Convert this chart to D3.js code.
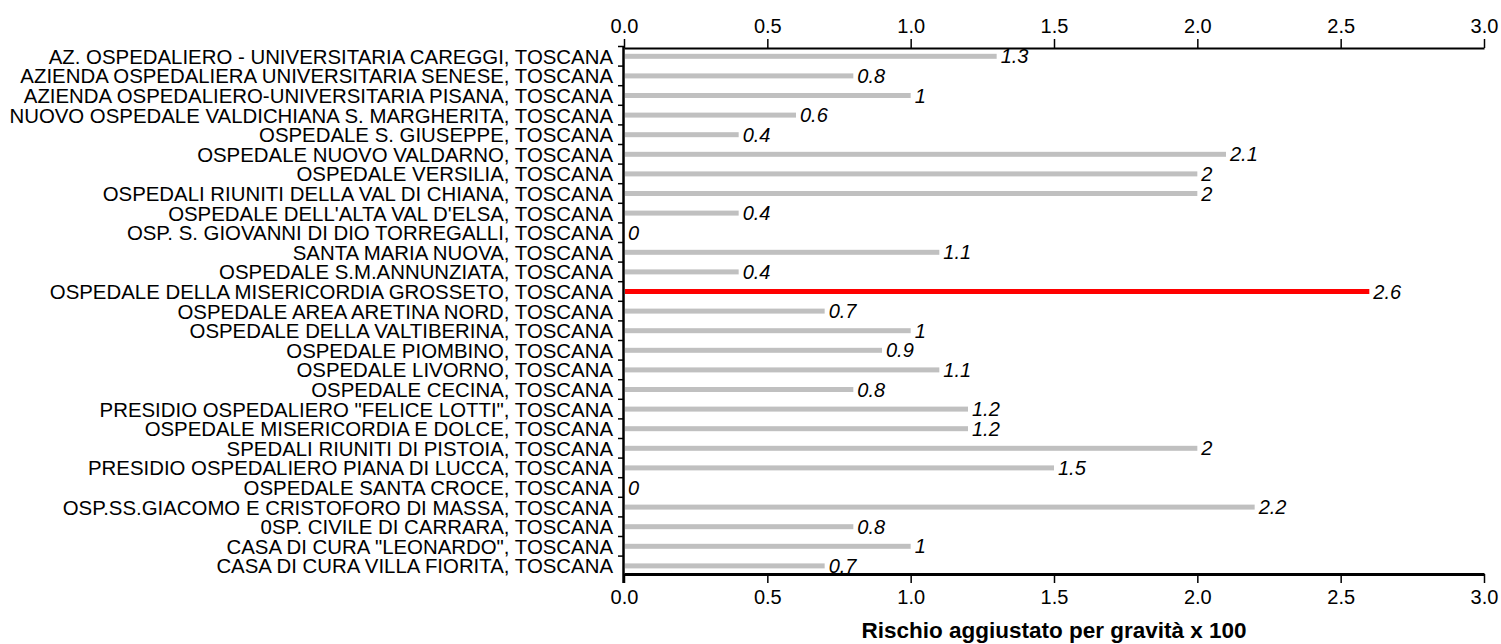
<!DOCTYPE html>
<html>
<head>
<meta charset="utf-8">
<script src="https://cdn.jsdelivr.net/npm/d3@7"></script>
<style>
  html, body { margin: 0; padding: 0; background: #fff; }
  svg { display: block; }
  text { font-family: Arial, "Liberation Sans", sans-serif; }
</style>
</head>
<body>
<svg id="chart" width="1501" height="644"></svg>
<script>
const categories = [
  "AZ. OSPEDALIERO - UNIVERSITARIA CAREGGI, TOSCANA",
  "AZIENDA OSPEDALIERA UNIVERSITARIA SENESE, TOSCANA",
  "AZIENDA OSPEDALIERO-UNIVERSITARIA PISANA, TOSCANA",
  "NUOVO OSPEDALE VALDICHIANA S. MARGHERITA, TOSCANA",
  "OSPEDALE S. GIUSEPPE, TOSCANA",
  "OSPEDALE NUOVO VALDARNO, TOSCANA",
  "OSPEDALE VERSILIA, TOSCANA",
  "OSPEDALI RIUNITI DELLA VAL DI CHIANA, TOSCANA",
  "OSPEDALE DELL'ALTA VAL D'ELSA, TOSCANA",
  "OSP. S. GIOVANNI DI DIO TORREGALLI, TOSCANA",
  "SANTA MARIA NUOVA, TOSCANA",
  "OSPEDALE S.M.ANNUNZIATA, TOSCANA",
  "OSPEDALE DELLA MISERICORDIA GROSSETO, TOSCANA",
  "OSPEDALE AREA ARETINA NORD, TOSCANA",
  "OSPEDALE DELLA VALTIBERINA, TOSCANA",
  "OSPEDALE PIOMBINO, TOSCANA",
  "OSPEDALE LIVORNO, TOSCANA",
  "OSPEDALE CECINA, TOSCANA",
  "PRESIDIO OSPEDALIERO \"FELICE LOTTI\", TOSCANA",
  "OSPEDALE MISERICORDIA E DOLCE, TOSCANA",
  "SPEDALI RIUNITI DI PISTOIA, TOSCANA",
  "PRESIDIO OSPEDALIERO PIANA DI LUCCA, TOSCANA",
  "OSPEDALE SANTA CROCE, TOSCANA",
  "OSP.SS.GIACOMO E CRISTOFORO DI MASSA, TOSCANA",
  "0SP. CIVILE DI CARRARA, TOSCANA",
  "CASA DI CURA \"LEONARDO\", TOSCANA",
  "CASA DI CURA VILLA FIORITA, TOSCANA"
];
const values = [1.3, 0.8, 1, 0.6, 0.4, 2.1, 2, 2, 0.4, 0, 1.1, 0.4, 2.6, 0.7, 1, 0.9, 1.1, 0.8, 1.2, 1.2, 2, 1.5, 0, 2.2, 0.8, 1, 0.7];
const valueLabels = ["1.3","0.8","1","0.6","0.4","2.1","2","2","0.4","0","1.1","0.4","2.6","0.7","1","0.9","1.1","0.8","1.2","1.2","2","1.5","0","2.2","0.8","1","0.7"];
const highlighted = ["OSPEDALE DELLA MISERICORDIA GROSSETO, TOSCANA"];
const xTicks = [0, 0.5, 1, 1.5, 2, 2.5, 3];
const xTitle = "Rischio aggiustato per gravità x 100";

const data = categories.map((c, i) => ({ name: c, value: values[i], label: valueLabels[i] }));

const svg = d3.select("#chart");
svg.append("rect").attr("width", 1501).attr("height", 644).attr("fill", "#fff");

const x = d3.scaleLinear().domain([0, 3]).range([624, 1484]);
const y = d3.scaleBand().domain(categories).range([46.5, 575.7]).padding(0);
const topY = 48, bottomY = 574;
const labelSize = 20.4, tickSize = 20, valueSize = 20;

// bars
svg.append("g").selectAll("rect").data(data).join("rect")
  .attr("x", x(0) + 1)
  .attr("y", d => y(d.name) + y.bandwidth() / 2 - 2.5)
  .attr("width", d => Math.max(0, x(d.value) - x(0) - 1))
  .attr("height", 5)
  .attr("fill", d => highlighted.includes(d.name) ? "#ff0000" : "#c0c0c0");

// value labels
svg.append("g").selectAll("text").data(data).join("text")
  .attr("x", d => x(d.value) + 4)
  .attr("y", d => y(d.name) + y.bandwidth() / 2 + 7)
  .attr("font-size", valueSize)
  .attr("font-style", "italic")
  .attr("fill", "#000")
  .text(d => d.label);

// category labels
svg.append("g").selectAll("text").data(data).join("text")
  .attr("x", 613)
  .attr("y", d => y(d.name) + y.bandwidth() / 2 + 7.5)
  .attr("text-anchor", "end")
  .attr("font-size", labelSize)
  .attr("fill", "#000")
  .text(d => d.name);

// left ticks at band boundaries
svg.append("g").selectAll("line").data(categories).join("line")
  .attr("x1", 618).attr("x2", 624)
  .attr("y1", d => y(d)).attr("y2", d => y(d))
  .attr("stroke", "#000").attr("stroke-width", 1.5);

// left axis line
svg.append("line")
  .attr("x1", 623.5).attr("x2", 623.5)
  .attr("y1", topY - 1).attr("y2", bottomY + 9)
  .attr("stroke", "#000").attr("stroke-width", 2.5);

// top axis
const topAxis = svg.append("g").attr("transform", `translate(0,${topY})`)
  .call(d3.axisTop(x).tickValues(xTicks).tickFormat(d3.format(".1f")).tickSize(9).tickSizeOuter(0));
topAxis.select(".domain").attr("stroke-width", 2);
topAxis.selectAll(".tick line").attr("stroke-width", 1.5);
topAxis.selectAll(".tick text").attr("font-size", tickSize).attr("font-family", "Arial, 'Liberation Sans', sans-serif").attr("dy", "0").attr("y", -15);

// bottom axis
const botAxis = svg.append("g").attr("transform", `translate(0,${bottomY})`)
  .call(d3.axisBottom(x).tickValues(xTicks).tickFormat(d3.format(".1f")).tickSize(9).tickSizeOuter(0));
botAxis.select(".domain").attr("stroke-width", 3);
botAxis.selectAll(".tick line").attr("stroke-width", 1.5);
botAxis.selectAll(".tick text").attr("font-size", tickSize).attr("font-family", "Arial, 'Liberation Sans', sans-serif").attr("dy", "0").attr("y", 30);

// x title
svg.append("text")
  .attr("x", (x(0) + x(3)) / 2)
  .attr("y", 638)
  .attr("text-anchor", "middle")
  .attr("font-size", 22.5)
  .attr("font-weight", "bold")
  .text(xTitle);
</script>
</body>
</html>
